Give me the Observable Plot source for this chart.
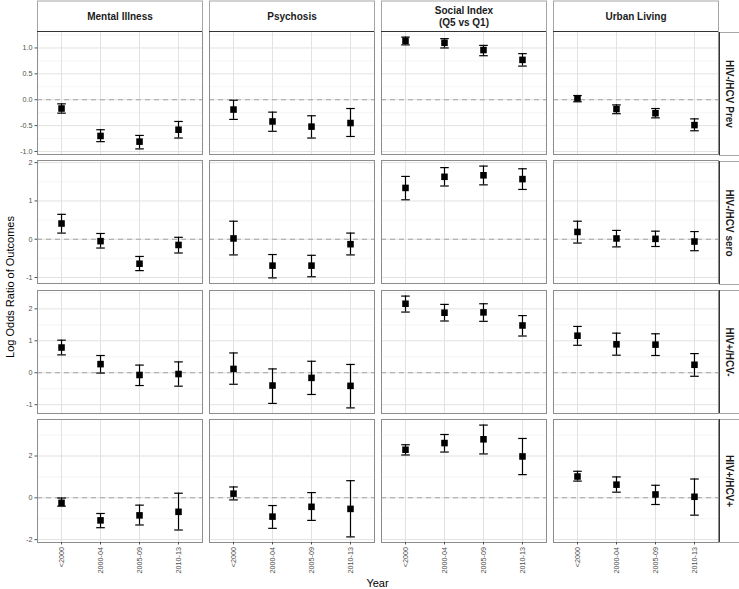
<!DOCTYPE html>
<html><head><meta charset="utf-8">
<script src="https://cdn.jsdelivr.net/npm/d3@7"></script>
<script src="https://cdn.jsdelivr.net/npm/@observablehq/plot@0.6"></script>
<style>
html,body{margin:0;padding:0;background:#fff;overflow:hidden}
#chart{position:relative;width:739px;height:589px;overflow:hidden;font-family:"Liberation Sans",Arial,sans-serif;background:#fff}
#chart svg{position:absolute}
.title{position:absolute;font-size:11px;color:#000;white-space:nowrap;line-height:1}
</style></head><body><div id="chart"></div>
<script>
// ---- categories ----
const years = ["<2000", "2000-04", "2005-09", "2010-13"];
const cols = ["Mental Illness", "Psychosis", "Social Index\n(Q5 vs Q1)", "Urban Living"];
const rows = ["HIV-/HCV Prev", "HIV-/HCV sero", "HIV+/HCV-", "HIV+/HCV+"];

// ---- values: 16 per row, column by column (Mental, Psychosis, Social, Urban), years within ----
const prevEst = [-0.17, -0.70, -0.81, -0.58,  -0.19, -0.42, -0.52, -0.45,  1.14, 1.10, 0.96, 0.77,  0.03, -0.18, -0.26, -0.49];
const prevLo  = [-0.26, -0.81, -0.95, -0.74,  -0.38, -0.61, -0.74, -0.71,  1.06, 1.00, 0.85, 0.65,  -0.04, -0.27, -0.35, -0.60];
const prevHi  = [-0.08, -0.58, -0.69, -0.42,  -0.01, -0.24, -0.31, -0.17,  1.21, 1.18, 1.05, 0.89,  0.08, -0.10, -0.17, -0.37];

const seroEst = [0.41, -0.05, -0.64, -0.15,  0.02, -0.69, -0.69, -0.13,  1.34, 1.63, 1.67, 1.57,  0.19, 0.02, 0.01, -0.06];
const seroLo  = [0.16, -0.23, -0.82, -0.36,  -0.41, -1.01, -0.98, -0.41,  1.03, 1.39, 1.42, 1.30,  -0.10, -0.20, -0.19, -0.30];
const seroHi  = [0.65, 0.15, -0.45, 0.05,  0.47, -0.40, -0.42, 0.16,  1.64, 1.87, 1.91, 1.84,  0.47, 0.23, 0.21, 0.20];

const hivEst = [0.79, 0.27, -0.07, -0.04,  0.12, -0.40, -0.16, -0.41,  2.16, 1.88, 1.89, 1.48,  1.16, 0.89, 0.88, 0.25];
const hivLo  = [0.56, -0.01, -0.40, -0.42,  -0.36, -0.96, -0.68, -1.10,  1.90, 1.62, 1.61, 1.15,  0.86, 0.55, 0.54, -0.11];
const hivHi  = [1.02, 0.54, 0.24, 0.34,  0.62, 0.12, 0.36, 0.26,  2.40, 2.14, 2.16, 1.79,  1.45, 1.24, 1.22, 0.60];

const coEst = [-0.24, -1.08, -0.84, -0.67,  0.20, -0.90, -0.43, -0.53,  2.30, 2.62, 2.80, 1.98,  1.02, 0.63, 0.16, 0.05];
const coLo  = [-0.40, -1.43, -1.30, -1.54,  -0.10, -1.46, -1.08, -1.87,  2.05, 2.19, 2.10, 1.11,  0.80, 0.27, -0.32, -0.83];
const coHi  = [-0.01, -0.75, -0.35, 0.22,  0.52, -0.37, 0.25, 0.82,  2.54, 3.03, 3.48, 2.84,  1.27, 1.00, 0.60, 0.90];

// ---- tick labels per row ----
const prevTicks = [-1, -0.5, 0, 0.5, 1];
const prevMinor = [-0.75, -0.25, 0.25, 0.75, 1.25];
const seroTicks = [-1, 0, 1, 2];
const seroMinor = [-0.5, 0.5, 1.5];
const hivTicks = [-1, 0, 1, 2];
const hivMinor = [-0.5, 0.5, 1.5, 2.5];
const coTicks = [-2, 0, 2];
const coMinor = [-1, 1, 3];

const rowCfg = [
  {est: prevEst, lo: prevLo, hi: prevHi, ticks: prevTicks, minor: prevMinor, fmt: d => d.toFixed(1)},
  {est: seroEst, lo: seroLo, hi: seroHi, ticks: seroTicks, minor: seroMinor, fmt: d => String(d)},
  {est: hivEst, lo: hivLo, hi: hivHi, ticks: hivTicks, minor: hivMinor, fmt: d => String(d)},
  {est: coEst, lo: coLo, hi: coHi, ticks: coTicks, minor: coMinor, fmt: d => String(d)}
];

const chart = document.getElementById("chart");
const W = 739, PL = 36, PR = 20, TOP = 31, BOTTOM = 542, M = 2;
const fxPad = 0.04, fyPad = 0.049;
const step = (BOTTOM - TOP) / (rows.length - fyPad);
const band = step * (1 - fyPad);
const font = '"Liberation Sans", Arial, sans-serif';
const baseStyle = {background: "transparent", fontFamily: font, fontSize: "7.2px", overflow: "visible"};
const cap = {draw(ctx, size) { const w = Math.sqrt(size / Math.PI); ctx.moveTo(-w, 0); ctx.lineTo(w, 0); }};

function place(svg, left, top) {
  svg.style.left = left + "px";
  svg.style.top = top + "px";
  chart.appendChild(svg);
}

rowCfg.forEach((r, i) => {
  const last = i === rows.length - 1;
  const data = [];
  cols.forEach((c, ci) => years.forEach((yr, yi) => {
    const k = ci * years.length + yi;
    data.push({col: c, year: yr, est: r.est[k], lo: r.lo[k], hi: r.hi[k]});
  }));
  const lo = d3.min(r.lo), hi = d3.max(r.hi), pad = (hi - lo) * 0.05;
  const mb = last ? 47 : M;
  const p = Plot.plot({
    width: W, height: band + M + mb,
    marginLeft: PL, marginRight: PR, marginTop: M, marginBottom: mb,
    style: baseStyle,
    fx: {domain: cols, paddingInner: fxPad, paddingOuter: 0, axis: null, label: null},
    x: {type: "point", domain: years, padding: 0.6, axis: null},
    y: {domain: [lo - pad, hi + pad], axis: null},
    marks: [
      Plot.gridY(r.minor, {stroke: "#f1f1f1", strokeOpacity: 1, strokeWidth: 0.7}),
      Plot.gridY(r.ticks, {stroke: "#e2e2e2", strokeOpacity: 1, strokeWidth: 1}),
      Plot.gridX(years, {stroke: "#e2e2e2", strokeOpacity: 1, strokeWidth: 1}),
      Plot.ruleY([0], {stroke: "#a3a3a3", strokeWidth: 1.1, strokeDasharray: "5,4"}),
      Plot.frame({stroke: "#8c8c8c"}),
      Plot.ruleX(data, {fx: "col", x: "year", y1: "lo", y2: "hi", stroke: "black", strokeWidth: 1.2}),
      Plot.dot(data, {fx: "col", x: "year", y: "lo", symbol: cap, r: 4.3, fill: "none", stroke: "black", strokeWidth: 1.2}),
      Plot.dot(data, {fx: "col", x: "year", y: "hi", symbol: cap, r: 4.3, fill: "none", stroke: "black", strokeWidth: 1.2}),
      Plot.dot(data, {fx: "col", x: "year", y: "est", symbol: "square", r: 3.7, fill: "black", stroke: "none"}),
      Plot.axisY(r.ticks, {tickFormat: r.fmt, tickSize: 2.5, tickPadding: 2.5, color: "#4d4d4d", label: null}),
      last ? Plot.axisX(years, {tickRotate: -90, tickSize: 2.5, tickPadding: 2, color: "#4d4d4d", label: null}) : null
    ]
  });
  place(p, 0, TOP + i * step - M);
});

// column strips
const strip = Plot.plot({
  width: W, height: TOP + 1,
  marginLeft: PL, marginRight: PR, marginTop: 0.5, marginBottom: 1,
  style: baseStyle,
  fx: {domain: cols, paddingInner: fxPad, paddingOuter: 0, axis: null, label: null},
  x: {domain: [0, 1], axis: null}, y: {domain: [0, 1], axis: null},
  marks: [
    Plot.frame({stroke: "#a6a6a6", fill: "white"}),
    Plot.ruleY([0], {stroke: "#333", strokeWidth: 1}),
    Plot.text(cols, {fx: d => d, text: d => d, frameAnchor: "middle", fontWeight: "bold", fontSize: 10, lineHeight: 1.13, fill: "#1a1a1a"})
  ]
});
place(strip, 0, 0);

// row strips
const rstrip = Plot.plot({
  width: 23, height: (BOTTOM - TOP) + 2 * M,
  marginLeft: 1, marginRight: 0, marginTop: M, marginBottom: M,
  style: baseStyle,
  fy: {domain: rows, paddingInner: fyPad, paddingOuter: 0, axis: null, label: null},
  x: {domain: [0, 1], axis: null}, y: {domain: [0, 1], axis: null},
  marks: [
    Plot.frame({stroke: "#a6a6a6", fill: "white"}),
    Plot.ruleX([0], {stroke: "#333", strokeWidth: 1}),
    Plot.text(rows, {fy: d => d, text: d => d, frameAnchor: "middle", rotate: 90, dx: -1.5, fontWeight: "bold", fontSize: 10, fill: "#1a1a1a"})
  ]
});
place(rstrip, 718, TOP - M);

// axis titles
const yt = document.createElement("div");
yt.className = "title";
yt.textContent = "Log Odds Ratio of Outcomes";
yt.style.left = "10px"; yt.style.top = ((TOP + BOTTOM) / 2) + "px";
yt.style.transform = "translate(-50%,-50%) rotate(-90deg)";
chart.appendChild(yt);

const xt = document.createElement("div");
xt.className = "title";
xt.textContent = "Year";
xt.style.left = ((PL + W - PR) / 2) + "px"; xt.style.top = "583px";
xt.style.transform = "translate(-50%,-50%)";
chart.appendChild(xt);
</script>
</body></html>
